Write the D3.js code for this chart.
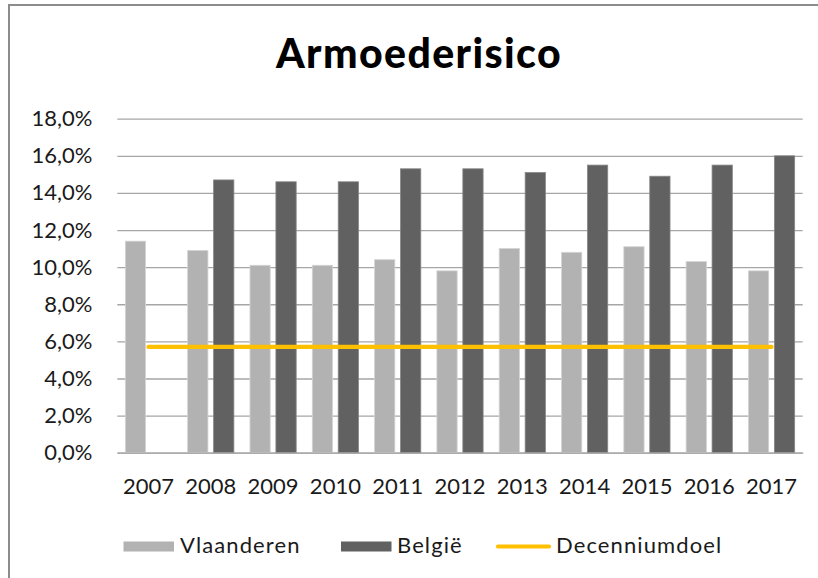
<!DOCTYPE html>
<html><head><meta charset="utf-8">
<script src="https://cdn.jsdelivr.net/npm/d3@7"></script>
<style>
html,body{margin:0;padding:0;background:#fff;}
svg{display:block;font-family:Lato,"Open Sans",sans-serif;}
</style></head>
<body>
<svg id="chart" width="818" height="578"></svg>
<script>
const years = ["2007","2008","2009","2010","2011","2012","2013","2014","2015","2016","2017"];
const vlaanderen = [11.4,10.9,10.1,10.1,10.4,9.8,11.0,10.8,11.1,10.3,9.8];
const belgie = [null,14.7,14.6,14.6,15.3,15.3,15.1,15.5,14.9,15.5,16.0];
const decenniumdoel = [5.7,5.7,5.7,5.7,5.7,5.7,5.7,5.7,5.7,5.7,5.7];
const yTicks = [0,2,4,6,8,10,12,14,16,18];
const seriesNames = ["Vlaanderen","België","Decenniumdoel"];
const title = "Armoederisico";

const colV = "#b2b2b2", colB = "#616161", colD = "#ffc000";
const svg = d3.select("#chart");

// outer frame (right/bottom cut off like the reference)
svg.append("rect").attr("x",9).attr("y",5).attr("width",900).attr("height",700)
  .attr("fill","none").attr("stroke","#8c8c8c").attr("stroke-width",2);

const x = d3.scaleBand().domain(years).range([117.3,802.7]).paddingInner(0).paddingOuter(0);
const sub = d3.scaleBand().domain(["v","b"]).range([0,x.bandwidth()]).paddingInner(0.219).paddingOuter(0.31);
const y = d3.scaleLinear().domain([0,18]).range([452.7,118.7]);

// gridlines
const yAxis = d3.axisLeft(y).tickValues(yTicks).tickSize(-(802.7-117.3)).tickPadding(25)
  .tickFormat(d => d3.format(".1f")(d).replace(".",",") + "%");
const gy = svg.append("g").attr("transform","translate(117.3,0)").call(yAxis);
gy.select(".domain").remove();
gy.selectAll(".tick line").attr("stroke","#a6a6a6").attr("stroke-width",1.3);
gy.selectAll(".tick text").attr("fill","#1a1a1a").attr("font-size",22).attr("font-family","Lato");

// bars
const gb = svg.append("g");
gb.selectAll("rect.v").data(years).join("rect").attr("class","v")
  .attr("x",(d,i)=>x(d)+sub("v")).attr("width",sub.bandwidth())
  .attr("y",(d,i)=>y(vlaanderen[i])).attr("height",(d,i)=>y(0)-y(vlaanderen[i]))
  .attr("fill",colV).attr("stroke","#d4d4d4").attr("stroke-width",0.8);
gb.selectAll("rect.b").data(years.filter((d,i)=>belgie[i]!=null)).join("rect").attr("class","b")
  .attr("x",d=>x(d)+sub("b")).attr("width",sub.bandwidth())
  .attr("y",d=>y(belgie[years.indexOf(d)])).attr("height",d=>y(0)-y(belgie[years.indexOf(d)]))
  .attr("fill",colB).attr("stroke","#878787").attr("stroke-width",0.8);

// x axis
const xAxis = d3.axisBottom(x).tickSize(0).tickPadding(0);
const gx = svg.append("g").attr("transform","translate(0,452.7)").call(xAxis);
gx.select(".domain").attr("stroke","#a6a6a6").attr("stroke-width",1.3);
gx.selectAll(".tick text").attr("fill","#1a1a1a").attr("font-size",22).attr("font-family","Lato")
  .attr("dy",0).attr("y",41);

// target line
const line = d3.line().x((d,i)=>x(years[i])+x.bandwidth()/2).y(d=>y(d));
svg.append("path").datum(decenniumdoel).attr("d",line).attr("fill","none")
  .attr("stroke",colD).attr("stroke-width",4.2).attr("stroke-linecap","round");

// title
svg.append("text").attr("x",419).attr("y",68).attr("text-anchor","middle")
  .attr("font-family","Lato").attr("font-weight","900").attr("font-size",41)
  .attr("letter-spacing",1.4).attr("fill","#000").text(title);

// legend
const lg = svg.append("g").attr("font-size",22).attr("letter-spacing",1.1).attr("fill","#1a1a1a");
lg.append("rect").attr("x",123.5).attr("y",541.5).attr("width",50.5).attr("height",10).attr("fill",colV);
lg.append("text").attr("x",180).attr("y",553).text(seriesNames[0]);
lg.append("rect").attr("x",341).attr("y",541.5).attr("width",50.5).attr("height",10).attr("fill",colB);
lg.append("text").attr("x",397).attr("y",553).text(seriesNames[1]);
lg.append("line").attr("x1",498).attr("x2",549).attr("y1",546.5).attr("y2",546.5)
  .attr("stroke",colD).attr("stroke-width",4.2).attr("stroke-linecap","round");
lg.append("text").attr("x",556).attr("y",553).text(seriesNames[2]);
</script>
</body></html>
